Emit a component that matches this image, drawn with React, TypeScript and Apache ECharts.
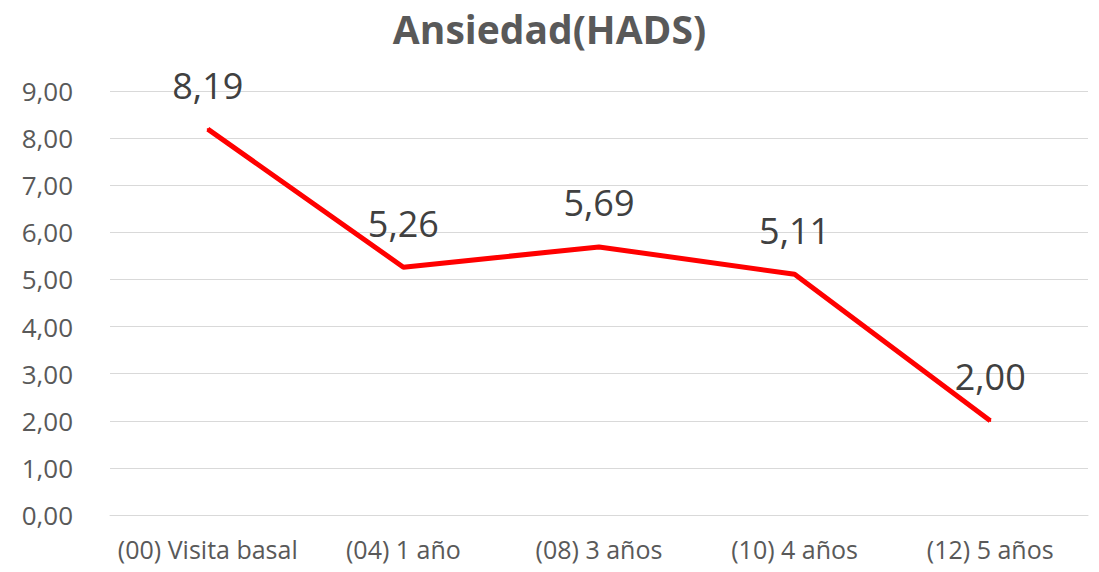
import React, { useEffect, useRef } from "react";
import * as echarts from "echarts";

const categories = ["(00) Visita basal", "(04) 1 año", "(08) 3 años", "(10) 4 años", "(12) 5 años"];
const values = [8.19, 5.26, 5.69, 5.11, 2.0];
const chartTitle = "Ansiedad(HADS)";

const fmt = (v: number) => v.toFixed(2).replace(".", ",");

export default function App() {
  const ref = useRef<HTMLDivElement>(null);
  useEffect(() => {
    const chart = echarts.init(ref.current!, null, { renderer: "svg" });
    chart.setOption({
      animation: false,
      backgroundColor: "#ffffff",
      title: {
        text: chartTitle,
        left: "center",
        top: 4,
        textStyle: { fontFamily: "Open Sans", fontWeight: "bold", fontSize: 39, color: "#595959" },
      },
      grid: { left: 110, right: 11, top: 91, bottom: 57 },
      xAxis: {
        type: "category",
        data: categories,
        boundaryGap: true,
        axisLine: { show: true, lineStyle: { color: "#d9d9d9", width: 1 } },
        axisTick: { show: false },
        axisLabel: { interval: 0, fontFamily: "Open Sans", fontSize: 25, color: "#595959", margin: 21 },
      },
      yAxis: {
        type: "value",
        min: 0,
        max: 9,
        interval: 1,
        axisLine: { show: false },
        axisTick: { show: false },
        splitLine: { lineStyle: { color: "#d9d9d9", width: 1 } },
        axisLabel: {
          fontFamily: "Open Sans",
          fontSize: 26,
          color: "#595959",
          margin: 37,
          formatter: (v: number) => fmt(v),
        },
      },
      series: [
        {
          type: "line",
          data: values,
          symbol: "circle",
          symbolSize: 2,
          showSymbol: true,
          lineStyle: { color: "#ff0000", width: 5 },
          itemStyle: { color: "#ff0000" },
          label: {
            show: true,
            position: "top",
            distance: 25,
            fontFamily: "Open Sans",
            fontSize: 36,
            color: "#404040",
            formatter: (p: any) => fmt(p.value),
          },
        },
      ],
    });
    return () => chart.dispose();
  }, []);
  return <div ref={ref} style={{ position: "absolute", left: 0, top: 0, width: 1099, height: 572 }} />;
}
